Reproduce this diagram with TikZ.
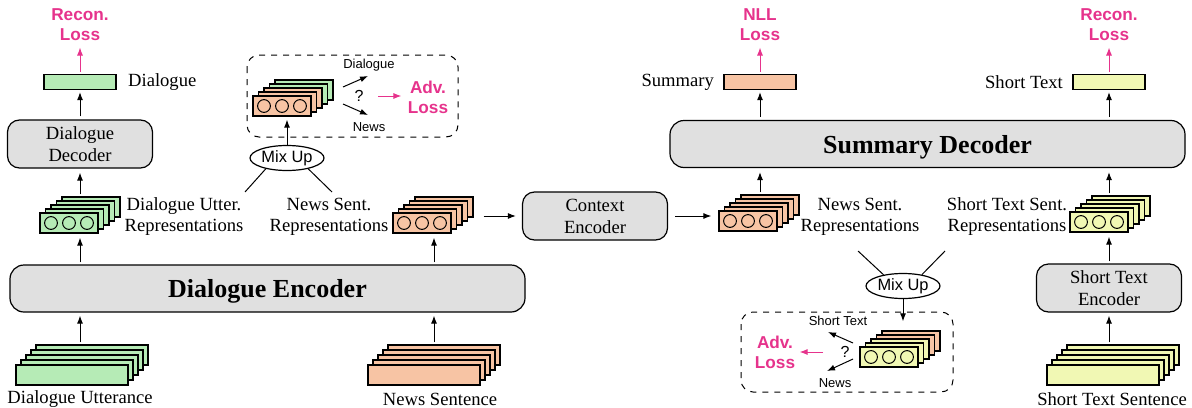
\documentclass[tikz,border=0pt]{standalone}
\usepackage{fontspec}
\setmainfont{Liberation Serif}
\setsansfont{Liberation Sans}
\usetikzlibrary{calc,positioning,shapes.geometric,arrows.meta}

\definecolor{vgreen}{HTML}{B6EBB6}
\definecolor{vsalmon}{HTML}{F7C4A4}
\definecolor{vyellow}{HTML}{F1F8B4}
\definecolor{boxgray}{HTML}{E0E0E0}
\definecolor{losspink}{HTML}{E6338C}

\tikzset{
  vec/.style={draw, line width=0.65pt, minimum width=29pt, minimum height=10pt, inner sep=0pt},
  sent/.style={draw, line width=0.65pt, minimum width=56pt, minimum height=10pt, inner sep=0pt},
  outvec/.style={draw, line width=0.65pt, minimum width=36pt, minimum height=7.5pt, inner sep=0pt},
  module/.style={draw, line width=0.6pt, fill=boxgray, rounded corners=6pt, minimum width=72.5pt, minimum height=24pt, align=center, inner sep=1pt, font=\fontsize{9.3}{11}\selectfont},
  bigmodule/.style={module, rounded corners=7pt, minimum width=257.5pt, minimum height=23.5pt, text depth=0pt, font=\fontsize{13}{15}\selectfont\bfseries},
  lbl/.style={align=center, inner sep=0pt, font=\fontsize{9.3}{10.5}\selectfont},
  small/.style={inner sep=0pt, font=\sffamily\fontsize{6.5}{7.5}\selectfont},
  qm/.style={inner sep=0pt, font=\sffamily\fontsize{8}{9}\selectfont},
  loss/.style={align=center, inner sep=0pt, text=losspink, font=\sffamily\bfseries\fontsize{8.6}{10}\selectfont},
  mix/.style={draw, ellipse, line width=0.6pt, minimum width=37pt, minimum height=12.5pt, inner sep=0pt, font=\sffamily\fontsize{8.2}{9}\selectfont},
}

% stack of five vectors with three units on the front one
\newcommand{\repstack}[4]{% name, front centre, back colour, front colour
  \foreach \k/\clr in {4/#3,3/#3,2/#4,1/#4}
    \node[vec, fill=\clr] (#1-\k) at ($(#2)+(\k*5.5,-\k*4)$) {};
  \node[vec, fill=#4] (#1) at (#2) {};
  \foreach \dx in {-18,0,18}
    \draw[line width=0.5pt] ($(#1)+(\dx,0)$) circle (3.2pt);
}
% stack of five input sentences
\newcommand{\sentstack}[3]{% name, front centre, colour
  \foreach \k in {4,3,2,1}
    \node[sent, fill=#3] (#1-\k) at ($(#2)+(\k*5,-\k*5)$) {};
  \node[sent, fill=#3] (#1) at (#2) {};
}

\begin{document}
\begin{tikzpicture}[x=0.5pt, y=-0.5pt, >={Latex[length=4pt,width=3pt]}, line width=0.5pt]
    \useasboundingbox (0,0) rectangle (1192,407);

    % Dialogue side
    \sentstack{du}{72,375}{vgreen}
    \node[lbl] (dulbl) at (80,399) {Dialogue Utterance};
    \node[bigmodule] (denc) at (267.5,288.5) {Dialogue Encoder};
    \repstack{dur}{69,223}{vgreen}{vgreen}
    \node[lbl] (durlbl) at (184,217) {Dialogue Utter.\\Representations};
    \node[module] (ddec) at (80,144) {Dialogue\\Decoder};
    \node[outvec, fill=vgreen] (dout) at (80,82) {};
    \node[lbl, right=5.5pt of dout] (doutlbl) {Dialogue};
    \node[loss] (dloss) at (80,25) {Recon.\\Loss};

    \draw[->, shorten <=1pt, shorten >=1.5pt] (du-4.north -| dout) -- (denc.south -| dout);
    \draw[->, shorten <=1pt, shorten >=2pt] (denc.north -| dout) -- (dur.south -| dout);
    \draw[->, shorten <=1pt, shorten >=2pt] (dur-4.north -| dout) -- (ddec.south);
    \draw[->, shorten <=1.5pt, shorten >=1pt] (ddec.north) -- (dout.south);
    \draw[->, losspink, shorten <=1pt, shorten >=3pt] (dout.north) -- (dloss.south);

    % News side
    \sentstack{ns}{424,375}{vsalmon}
    \node[lbl] (nslbl) at (440,399) {News Sentence};
    \repstack{nsr}{422,223}{vsalmon}{vsalmon}
    \node[lbl] (nsrlbl) at (329,217) {News Sent.\\Representations};
    \draw[->, shorten <=1pt, shorten >=1.5pt] (ns-4.north -| ns-2) -- (denc.south -| ns-2);
    \draw[->, shorten <=1pt, shorten >=2pt] (denc.north -| ns-2) -- (nsr.south -| ns-2);

    % Mix up of dialogue and news
    \node[mix] (mixl) at (287,158) {Mix Up};
    \coordinate (mixl-a) at (245,192);
    \coordinate (mixl-b) at (332,192);
    \draw (mixl-a) -- (mixl.207);
    \draw (mixl-b) -- (mixl.333);
    \draw[dashed, rounded corners=6pt] (247,55) rectangle (458,137);
    \repstack{mvl}{282,106}{vgreen}{vsalmon}
    \draw[->, shorten >=1.5pt] (mixl.north) -- (mvl.south -| mixl);
    \node[small] (advd) at (369,65) {Dialogue};
    \node[small] (advn) at (369,127) {News};
    \node[qm] (qmark) at (359,96) {?};
    \coordinate (qd) at (343,87);
    \coordinate (qd-end) at (368,76);
    \coordinate (qn) at (343,104);
    \coordinate (qn-end) at (368,115);
    \draw[->] (qd) -- (qd-end);
    \draw[->] (qn) -- (qn-end);
    \node[loss] (advl) at (428,97) {Adv.\\Loss};
    \draw[->, losspink, shorten <=9.5pt, shorten >=3pt] (qmark.center) -- (qmark.center -| advl.west);

    % Context encoder
    \node[module] (ctx) at (595,216) {Context\\Encoder};
    \draw[->, shorten <=5pt, shorten >=3pt] (nsr-4.east |- ctx) -- (ctx.west);
    \repstack{nsr2}{748,221}{vsalmon}{vsalmon}
    \draw[->, shorten <=3.5pt, shorten >=3.5pt] (ctx.east) -- (ctx.east -| nsr2.west);
    \node[lbl] (nsr2lbl) at (860,217) {News Sent.\\Representations};

    % Summary decoder
    \node[bigmodule] (sdec) at (927.5,144) {Summary Decoder};
    \node[outvec, fill=vsalmon] (sout) at (760,82) {};
    \node[lbl, left=4.5pt of sout] (soutlbl) {Summary};
    \node[loss] (nll) at (760,25) {NLL\\Loss};
    \draw[->, shorten <=1pt, shorten >=2pt] (nsr2-4.north -| sout) -- (sdec.south -| sout);
    \draw[->, shorten <=1.5pt, shorten >=1pt] (sdec.north -| sout) -- (sout.south);
    \draw[->, losspink, shorten <=1pt, shorten >=3pt] (sout.north) -- (nll.south);

    % Short text side
    \sentstack{st}{1103,375}{vyellow}
    \node[lbl] (stlbl) at (1112,399) {Short Text Sentence};
    \node[module] (senc) at (1109,288) {Short Text\\Encoder};
    \repstack{str}{1099,222}{vyellow}{vyellow}
    \node[lbl] (strlbl) at (1007,217) {Short Text Sent.\\Representations};
    \node[outvec, fill=vyellow] (stout) at (1109,82) {};
    \node[lbl, left=4.5pt of stout] (stoutlbl) {Short Text};
    \node[loss] (stloss) at (1109,25) {Recon.\\Loss};
    \draw[->, shorten <=1pt, shorten >=1.5pt] (st-4.north -| senc) -- (senc.south);
    \draw[->, shorten <=1pt, shorten >=2pt] (senc.north) -- (str.south -| senc);
    \draw[->, shorten <=1pt, shorten >=2pt] (str-4.north -| senc) -- (sdec.south -| senc);
    \draw[->, shorten <=1.5pt, shorten >=1pt] (sdec.north -| stout) -- (stout.south);
    \draw[->, losspink, shorten <=1pt, shorten >=3pt] (stout.north) -- (stloss.south);

    % Mix up of news and short text
    \node[mix] (mixr) at (903,286) {Mix Up};
    \coordinate (mixr-a) at (858,251);
    \coordinate (mixr-b) at (945,251);
    \draw (mixr-a) -- (mixr.150);
    \draw (mixr-b) -- (mixr.31);
    \draw[dashed, rounded corners=6pt] (741,312) rectangle (953,392);
    \repstack{mvr}{889,357}{vsalmon}{vyellow}
    \draw[->, shorten >=4.5pt] (mixr.south) -- (mvr-4.north -| mixr);
    \node[small] (advs) at (838,321) {Short Text};
    \node[small] (advn2) at (835,383) {News};
    \node[qm] (qmark2) at (845,352) {?};
    \coordinate (qs) at (853,343);
    \coordinate (qs-end) at (828,332);
    \coordinate (qn2) at (853,359);
    \coordinate (qn2-end) at (827,371);
    \draw[->] (qs) -- (qs-end);
    \draw[->] (qn2) -- (qn2-end);
    \node[loss] (advl2) at (775,352) {Adv.\\Loss};
    \draw[->, losspink, shorten <=11pt, shorten >=2pt] (qmark2.center) -- (qmark2.center -| advl2.east);
\end{tikzpicture}
\end{document}
